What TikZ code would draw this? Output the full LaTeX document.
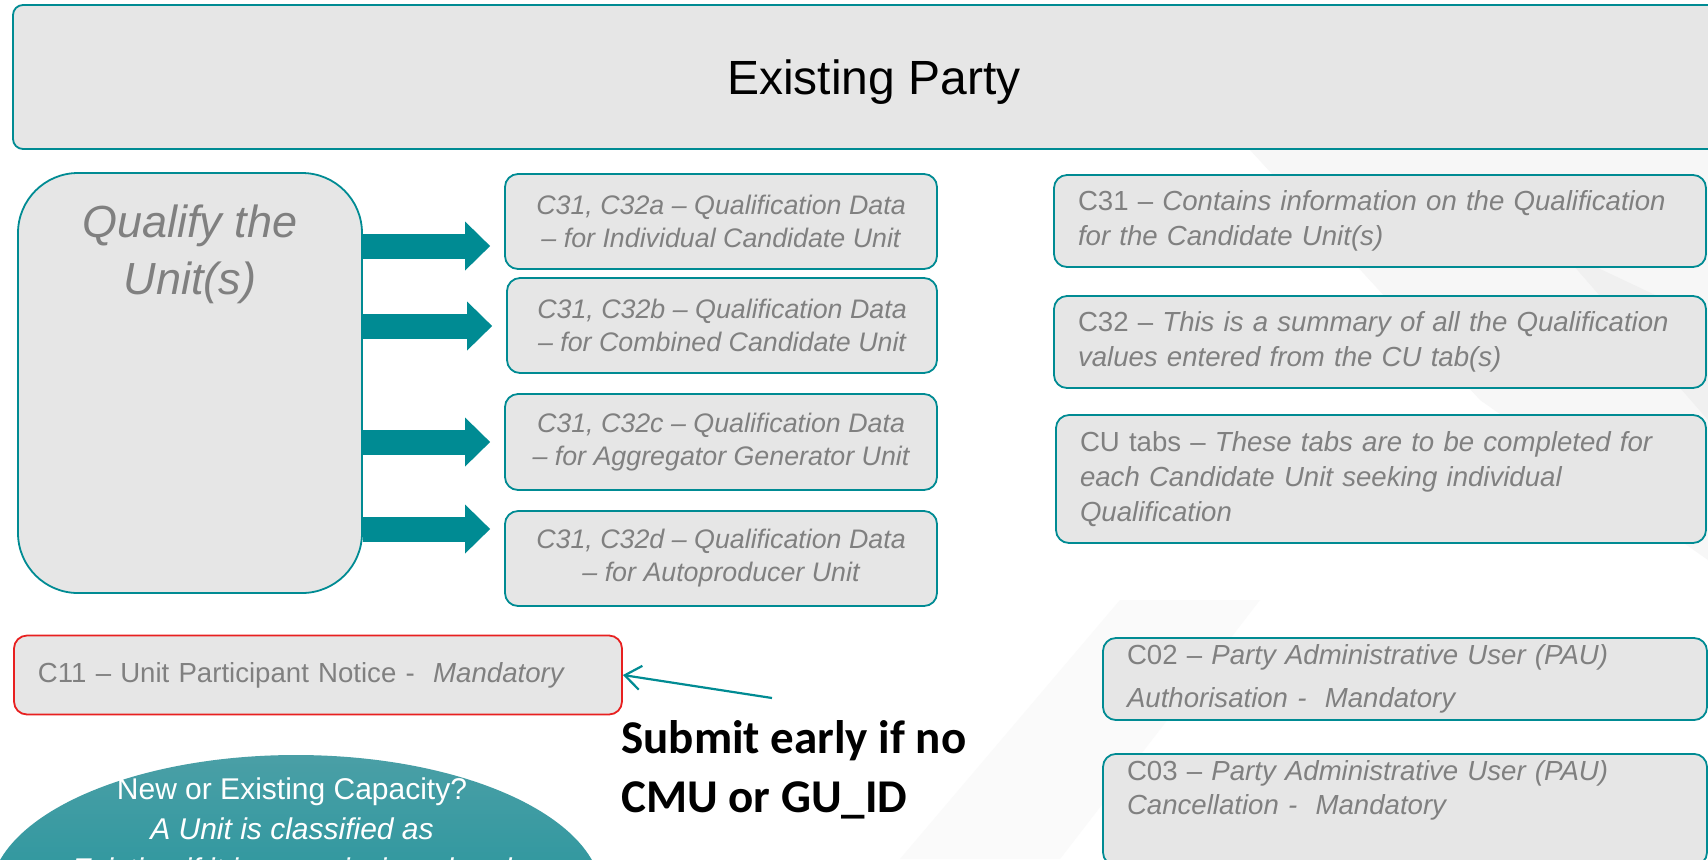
\documentclass[tikz,border=0pt]{standalone}
\usepackage{fontspec}
\setmainfont{Liberation Sans}
\newfontfamily\calibrifont{Carlito}
\usetikzlibrary{arrows.meta,positioning,shapes.geometric}
\definecolor{qteal}{RGB}{0,139,147}
\definecolor{boxfill}{RGB}{230,230,230}
\definecolor{boxtext}{RGB}{128,128,128}
\definecolor{noticered}{RGB}{232,32,32}
\definecolor{ovaltop}{RGB}{74,159,166}
\definecolor{ovalbottom}{RGB}{14,142,150}

\begin{document}
\begin{tikzpicture}[
    x=0.5pt, y=-0.5pt,
    panel/.style={draw=qteal, line width=0.9pt, fill=boxfill, rounded corners=6.5pt, text=boxtext},
    databox/.style={panel, minimum width=216pt, minimum height=47.5pt, align=center, font=\fontsize{13.4}{16.5}\selectfont\itshape},
    notebox/.style={panel, inner xsep=12pt, align=left, font=\fontsize{13.8}{17.5}\selectfont},
    bigarrow/.style={qteal, line width=12.5pt, shorten >=7pt, -{Triangle[length=12.5pt, width=24.5pt, line width=0pt]}}
]
\useasboundingbox (0,0) rectangle (1708,859);
\clip (0,0) rectangle (1708,859);
\fill[white] (0,0) rectangle (1708,859);
\fill[black!3] (1250,150) -- (1708,140) -- (1708,560) -- (1480,400) -- cycle;
\fill[black!6] (1560,250) -- (1708,320) -- (1708,420) -- cycle;
\fill[black!2] (900,859) -- (1120,600) -- (1260,600) -- (1060,859) -- cycle;

\node[panel, rounded corners=5pt, text=black, minimum width=861pt, minimum height=72pt, text depth=0pt, font=\fontsize{24}{28}\selectfont] (party) at (874,77) {Existing Party};

% qualification group
\node[panel, rounded corners=30pt, minimum width=172pt, minimum height=210pt] (quali) at (190,383) {};
\node[below=16pt of quali.north, inner sep=0pt, align=center, text=boxtext, font=\fontsize{22.5}{28.5}\selectfont\itshape] (qualitext) {Qualify the\\Unit(s)};

\node[databox] (cqa) at (721,221.5) {C31, C32a – Qualification Data\\– for Individual Candidate Unit};
\node[databox, minimum width=215pt] (cqb) at (722,325.5) {C31, C32b – Qualification Data\\– for Combined Candidate Unit};
\node[databox, minimum height=48pt] (cqc) at (721,442) {C31, C32c – Qualification Data\\– for Aggregator Generator Unit};
\node[databox] (cqd) at (721,558.5) {C31, C32d – Qualification Data\\– for Autoproducer Unit};

\foreach \y/\tgt in {246/cqa, 326/cqb, 442/cqc, 529/cqd}
    \draw[bigarrow] (quali.east |- 0,\y) -- (\tgt.west |- 0,\y);

% sheet notes
\node[notebox, text width=302pt, minimum height=46pt] (cdesc) at (1380,221) {C31 – \textit{Contains information on the Qualification}\\\textit{for the Candidate Unit(s)}};
\node[notebox, text width=302pt, minimum height=46pt] (csum) at (1380,342) {C32 – \textit{This is a summary of all the Qualification}\\\textit{values entered from the CU tab(s)}};
\node[notebox, text width=301pt, minimum height=64pt] (ctabs) at (1381,479) {CU tabs – \textit{These tabs are to be completed for}\\\textit{each Candidate Unit seeking individual}\\\textit{Qualification}};

\node[notebox, text width=278pt, minimum height=40pt, font=\fontsize{13.8}{21.5}\selectfont] (cpau) at (1405,679) {C02 – \textit{Party Administrative User (PAU)}\\\textit{Authorisation -\ \ Mandatory}};
\node[notebox, text width=278pt, anchor=north, font=\fontsize{13.8}{17}\selectfont] (ccancel) at (1405,753) {C03 – \textit{Party Administrative User (PAU)}\\\textit{Cancellation -\ \ Mandatory}\\\strut};

\node[notebox, draw=noticered, text width=280pt, minimum height=39.5pt] (notice) at (318,675) {C11 – Unit Participant Notice -\ \ \textit{Mandatory}};

\node[anchor=north west, inner sep=0pt, align=left, font=\calibrifont\bfseries\fontsize{23.5}{29.5}\selectfont] (early) at (621,720) {Submit early if no\\CMU or GU\_ID};
\coordinate (earlytail) at (772,698);
\draw[qteal, line width=1.1pt, -{Straight Barb[length=8pt, width=12pt]}] (earlytail) -- (notice.east);

% capacity oval
\node[ellipse, draw=none, minimum width=306pt, minimum height=141pt, top color=ovaltop, bottom color=ovalbottom] (capacity) at (296,896) {};
\node[anchor=north, align=center, text=white, font=\fontsize{15}{20}\selectfont] (capacitytext) at (292,771) {New or Existing Capacity?\\\textit{A Unit is classified as}\\\textit{Existing if it is commissioned and}};
\end{tikzpicture}
\end{document}
